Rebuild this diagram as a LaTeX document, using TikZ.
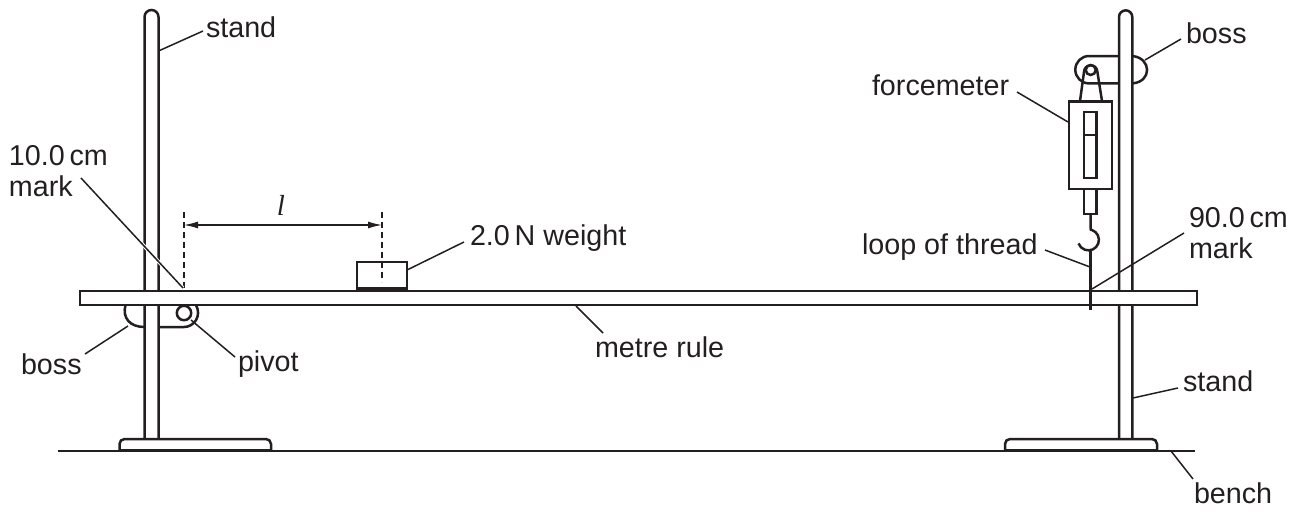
\documentclass[tikz,border=0pt]{standalone}
\usepackage{fontspec}
\setmainfont{Liberation Sans}
\newfontfamily\lfont{Liberation Serif}
\usetikzlibrary{arrows.meta}
\definecolor{ink}{HTML}{231F20}
\tikzset{
  part/.style={line width=2.5pt,draw=ink},
  thin part/.style={line width=1.3pt,draw=ink},
  leader/.style={line width=1.5pt,draw=ink},
  dim/.style={line width=1.4pt,draw=ink,dash pattern=on 6pt off 4pt},
  lab/.style={font=\fontsize{28.7}{32}\selectfont,text=ink,inner sep=0pt,outer sep=0pt,align=left,anchor=west},
}
\begin{document}
\begin{tikzpicture}[x=1pt,y=-1pt]
\useasboundingbox (0,0) rectangle (1302,512);
% bench
\draw[line width=2pt,draw=ink] (58,450.5) -- (1195,450.5);
% stands
\draw[part] (144.5,439) -- (144.5,17) arc[start angle=180,end angle=360,radius=7] -- (158.5,439);
\draw[part] (1119,439) -- (1119,17) arc[start angle=180,end angle=360,radius=6.65] -- (1132.3,439);
\draw[part] (144.5,439) -- (158.5,439);
\draw[part] (1119,439) -- (1132.3,439);
% bases
\draw[part,fill=white] (119.5,450) -- (119.5,444) arc[start angle=180,end angle=270,radius=5] -- (266,439) arc[start angle=-90,end angle=0,radius=5] -- (271,450);
\draw[part,fill=white] (1005,450) -- (1005,444) arc[start angle=180,end angle=270,radius=5] -- (1152,439) arc[start angle=-90,end angle=0,radius=5] -- (1157,450);
\draw[line width=3.2pt,draw=ink] (118.5,450.5) -- (272,450.5);
\draw[line width=3.2pt,draw=ink] (1004,450.5) -- (1158,450.5);
% left boss and pivot
\draw[part] (125.5,305) .. controls (122,318) and (130,327) .. (144.5,327);
\draw[part] (158.5,327) -- (184,327) .. controls (194,327) and (202,316) .. (196,305);
\draw[part] (184,313) circle[radius=7.2];
% right boss
\draw[part] (1119,56) -- (1089,56) arc[start angle=-90,end angle=-270,radius=13.7] -- (1119,83.4);
\draw[part] (1132.3,56) .. controls (1152,58) and (1152,82) .. (1132.3,83.4);
% forcemeter
\draw[part] (1080,101) -- (1084,72) arc[start angle=180,end angle=360,radius=6.7] -- (1102,101);
\draw[part] (1090.7,70) circle[radius=5];
\draw[part] (1069,101.5) rectangle (1112,189);
\draw[part] (1084,112) rectangle (1096.5,178);
\draw[thin part] (1084,135) -- (1096.5,135);
\draw[part] (1084,189) rectangle (1096.5,214);
% metre rule
\draw[part,fill=white] (80,291) rectangle (1197,305);
% hook and thread
\draw[part] (1090.5,214) -- (1090.5,228) .. controls (1090.5,230) and (1091,230) .. (1092,230) arc[start angle=-70,end angle=160,radius=10.5];
\draw[part] (1090.5,249) -- (1090.5,310);
% weight
\draw[part] (357,262) rectangle (407,288);
\draw[line width=3.4pt,draw=ink] (356,288.5) -- (408,288.5);
% dimension
\coordinate (dimL) at (184,225);
\coordinate (dimR) at (382,225);
\draw[dim] (184,212) -- (184,290);
\draw[dim] (382,212) -- (382,282);
\draw[line width=1.3pt,draw=ink,{Latex[length=14pt,width=7pt]}-{Latex[length=14pt,width=7pt]}] (dimL) -- (dimR);
\node[font=\fontsize{29}{32}\selectfont\lfont\itshape,text=ink,inner sep=0pt] (ell) at (281,205) {l};
% labels
\node[lab] (standA) at (206,27) {stand};
\node[lab] (bossA) at (1186,33) {boss};
\node[lab] (force) at (872,85) {forcemeter};
\node[lab] (tenmark) at (9,171) {10.0\,cm\\[-1pt]mark};
\node[lab] (weight) at (470,238) {2.0\,N weight};
\node[lab] (loop) at (862,247) {loop of thread};
\node[lab] (ninemark) at (1189,233) {90.0\,cm\\[-1pt]mark};
\node[lab] (bossB) at (21,364) {boss};
\node[lab] (pivot) at (238,364) {pivot};
\node[lab] (rule) at (595,347) {metre rule};
\node[lab] (standB) at (1183,381) {stand};
\node[lab] (bench) at (1194,493) {bench};
% leader ends
\coordinate (e1) at (158.5,51);
\coordinate (e2) at (1145,60);
\coordinate (e3) at (1068,122);
\coordinate (e4) at (183,288);
\coordinate (e5) at (407,270);
\coordinate (e6) at (1090,267);
\coordinate (e7) at (1092,289);
\coordinate (e8) at (128,326);
\coordinate (e9) at (191,320);
\coordinate (e10) at (576,306);
\coordinate (e11) at (1133,398);
\coordinate (e12) at (1171,451);
\coordinate (s1) at (203,31);
\coordinate (s2) at (1181,39);
\coordinate (s3) at (1017,92);
\coordinate (s4) at (81,178);
\coordinate (s5) at (464,242);
\coordinate (s6) at (1045,250);
\coordinate (s7) at (1184,233);
\coordinate (s8) at (85,354);
\coordinate (s9) at (235,357);
\coordinate (s10) at (603,333);
\coordinate (s11) at (1178,388);
\coordinate (s12) at (1193,479);
\draw[line width=3.5pt,draw=white] (s4) -- (e4);
\foreach \i in {1,...,12} {\draw[leader] (s\i) -- (e\i);}
\end{tikzpicture}
\end{document}
